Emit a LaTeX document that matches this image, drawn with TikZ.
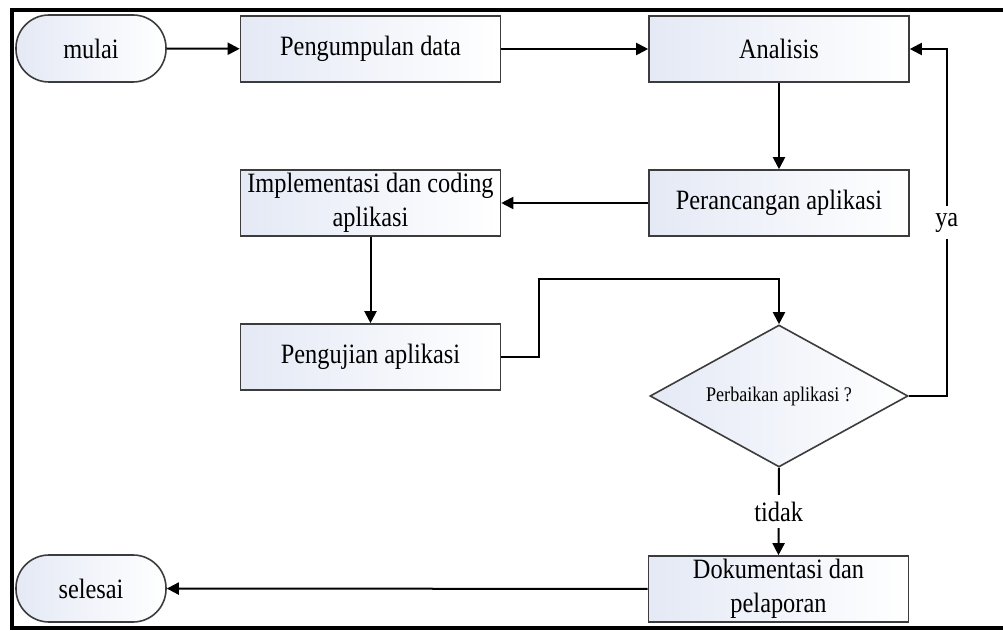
\documentclass[tikz,border=0pt]{standalone}
\usepackage{fontspec}
\setmainfont[FakeStretch=0.87]{Liberation Serif}
\usetikzlibrary{shapes.geometric,arrows.meta,calc}
\definecolor{boxtint}{RGB}{228,233,245}
\tikzset{
  boxbase/.style={draw={rgb,255:red,60;green,60;blue,60}, line width=0.8pt, left color=boxtint, right color=white, font=\fontsize{14}{17}\selectfont, align=center, inner sep=0pt},
  procbox/.style={boxbase, rectangle, minimum width=130pt, minimum height=33pt},
  termbox/.style={boxbase, rectangle, rounded corners=16.5pt, minimum width=75pt, minimum height=33.5pt},
  decbox/.style={boxbase, diamond, minimum width=129pt, minimum height=71pt, aspect=1.8, font=\fontsize{10.4}{12}\selectfont},
  arr/.style={line width=1pt, -{Triangle[length=6pt,width=6pt]}},
  lbl/.style={fill=white, font=\fontsize{14}{17}\selectfont, inner xsep=2pt, inner ysep=3.5pt}
}
\begin{document}
\begin{tikzpicture}[x=0.5pt,y=-0.5pt]
\useasboundingbox (0,0) rectangle (1003,631);
\fill[white] (0,0) rectangle (1003,631);
% frame
\draw[line width=2pt] (1010,10) -- (12,10) -- (12,628) -- (1010,628);
% nodes
\node[termbox] (mulai) at (91,48.5) {mulai};
\node[procbox] (kumpul) at (370.5,49) {Pengumpulan data};
\node[procbox] (analisis) at (779,49) {Analisis};
\node[procbox] (rancang) at (779,203) {Perancangan aplikasi};
\node[procbox] (impl) at (370.5,203) {Implementasi dan coding\\aplikasi};
\node[procbox] (uji) at (370.5,357) {Pengujian aplikasi};
\node[decbox] (dec) at (779,396) {Perbaikan aplikasi ?};
\node[procbox] (dok) at (778.5,589) {\raisebox{-2pt}{\parbox{120pt}{\centering Dokumentasi dan\\pelaporan}}};
\node[termbox] (selesai) at (91,588.5) {selesai};
% connectors
\draw[arr] (mulai) -- (kumpul);
\draw[arr] (kumpul) -- (analisis);
\draw[arr] (analisis) -- (rancang);
\draw[arr] (rancang) -- (impl);
\draw[arr] (impl) -- (uji);
\draw[arr] (uji.east) -- ++(38,0) |- ($(dec.north)+(0,-45)$) -- (dec.north);
\draw[arr] (dec.east) -- ++(38,0) |- node[lbl, pos=0.25] {ya} (analisis.east);
\draw[arr] (dec.south) -- node[lbl] {tidak} (dok.north);
\draw[arr] (dok) -- (selesai);
\end{tikzpicture}
\end{document}
